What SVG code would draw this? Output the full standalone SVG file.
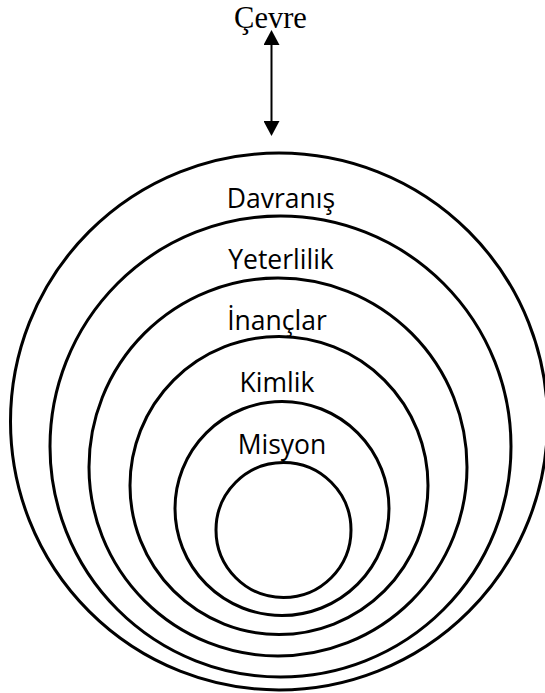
<svg xmlns="http://www.w3.org/2000/svg" width="545" height="693" viewBox="0 0 545 693">
<style>
.ring{fill:none;stroke:#000;stroke-width:3}
.lbl{font-family:"Open Sans","Noto Sans",sans-serif;font-size:26.5px;fill:#000;text-anchor:middle}
.env{font-family:"Liberation Serif","Times New Roman",serif;font-size:30.5px;fill:#000;text-anchor:middle}
.conn{stroke:#000;stroke-width:2;fill:none}
</style>
<defs>
<marker id="ah" viewBox="0 0 15 16" markerWidth="15" markerHeight="16" refX="5" refY="8" orient="auto-start-reverse" markerUnits="userSpaceOnUse">
<path d="M0,0 L15,8 L0,16 z" fill="#000"/>
</marker>
</defs>
<rect width="545" height="693" fill="#fff"/>
<g id="davranis"><circle class="ring" cx="279" cy="421.5" r="268.5"/><text class="lbl" x="281" y="208">Davranış</text></g>
<g id="yeterlilik"><circle class="ring" cx="280.5" cy="446.5" r="230.5"/><text class="lbl" x="281" y="269">Yeterlilik</text></g>
<g id="inanclar"><circle class="ring" cx="278" cy="467" r="189"/><text class="lbl" x="277" y="330">İnançlar</text></g>
<g id="kimlik"><circle class="ring" cx="279" cy="485.5" r="149"/><text class="lbl" x="277" y="392">Kimlik</text></g>
<g id="misyon"><circle class="ring" cx="282" cy="508.5" r="107"/><text class="lbl" x="282" y="454">Misyon</text></g>
<g id="core"><circle class="ring" cx="283.5" cy="530" r="67.5"/></g>
<g id="cevre"><text class="env" x="270.5" y="28">Çevre</text></g>
<g id="connectors"><line class="conn" x1="271.5" y1="40" x2="271.5" y2="126" marker-start="url(#ah)" marker-end="url(#ah)"/></g>
</svg>
